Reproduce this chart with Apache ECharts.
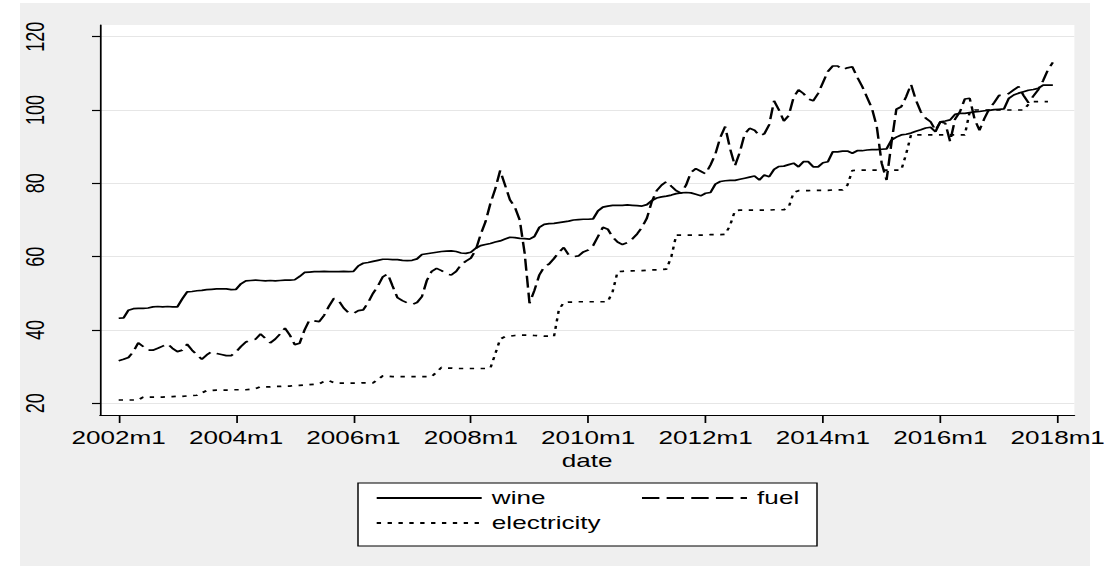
<!DOCTYPE html>
<html>
<head>
<meta charset="utf-8">
<script src="https://cdn.jsdelivr.net/npm/echarts@6/dist/echarts.min.js"></script>
<style>
  html, body { margin: 0; padding: 0; background: #fff; overflow: hidden; }
  #chart { position: absolute; left: 0; top: 0; height: 569px; transform-origin: 0 0; }
</style>
</head>
<body>
<div id="chart"></div>
<script>
// monthly series, 2002m1 .. 2017m12 (index 0 = 2002m1)
const wine = [
  43.2, 43.3, 45.4, 45.8, 45.9, 45.9, 46.0, 46.3, 46.4, 46.3, 46.4, 46.3,
  46.3, 48.5, 50.4, 50.5, 50.7, 50.8, 51.0, 51.1, 51.2, 51.2, 51.2, 51.0,
  51.1, 52.6, 53.4, 53.5, 53.6, 53.5, 53.4, 53.5, 53.4, 53.5, 53.6, 53.6,
  53.7, 54.6, 55.7, 55.8, 55.9, 55.9, 56.0, 55.9, 55.9, 55.9, 56.0, 55.9,
  56.0, 57.5, 58.2, 58.4, 58.7, 59.0, 59.3, 59.3, 59.2, 59.2, 59.0, 58.9,
  59.0, 59.4, 60.6, 60.8, 61.0, 61.2, 61.4, 61.5, 61.6, 61.4, 61.0, 60.9,
  61.2, 62.3, 63.0, 63.3, 63.6, 64.0, 64.3, 64.8, 65.3, 65.2, 65.0, 64.9,
  64.8, 65.5, 68.0, 68.8, 69.0, 69.1, 69.3, 69.5, 69.7, 70.0, 70.1, 70.2,
  70.2, 70.3, 72.5, 73.5, 73.8, 74.0, 74.0, 74.0, 74.1, 74.0, 73.9, 73.8,
  74.2, 75.3, 76.0, 76.3, 76.5, 76.8, 77.2, 77.4, 77.5, 77.4, 77.0, 76.6,
  77.3, 77.5, 79.8, 80.5, 80.7, 80.8, 80.8, 81.1, 81.4, 81.7, 82.0, 80.9,
  82.3, 81.8, 83.8, 84.6, 84.7, 85.1, 85.5, 84.5, 85.9, 85.9, 84.5, 84.5,
  85.6, 85.9, 88.6, 88.6, 88.8, 88.8, 88.2, 88.9, 88.9, 89.1, 89.2, 89.2,
  89.3, 89.4, 91.8, 92.6, 93.2, 93.4, 93.7, 94.2, 94.6, 95.1, 95.3, 94.1,
  96.8, 97.0, 97.3, 98.8, 99.1, 99.1, 99.3, 99.5, 99.6, 99.8, 99.9, 100.1,
  100.2, 100.3, 103.2, 104.1, 104.6, 105.0, 105.4, 105.6, 105.9, 106.8, 106.8, 106.8
]
const fuel = [
  31.6, 32.0, 32.5, 34.1, 36.5, 35.5, 34.5, 34.5, 35.0, 35.6, 36.2, 35.0,
  34.1, 34.5, 36.1, 34.5, 33.2, 32.0, 33.2, 34.1, 33.6, 33.3, 33.0, 33.0,
  34.0, 35.5, 36.7, 37.3, 37.5, 38.9, 37.7, 36.5, 37.5, 38.9, 40.5, 38.6,
  36.0, 36.4, 40.0, 42.7, 42.5, 42.3, 44.0, 46.5, 48.6, 48.0, 46.0, 44.7,
  44.5, 45.3, 45.5, 47.5, 50.0, 52.0, 54.5, 55.3, 52.0, 48.8, 48.0, 47.4,
  47.0, 47.5, 49.1, 53.5, 56.0, 56.8, 56.2, 55.3, 55.0, 56.0, 57.8, 58.8,
  59.6, 61.8, 66.0, 69.5, 74.5, 78.5, 83.5, 79.5, 75.5, 73.5, 70.0, 61.0,
  47.3, 50.8, 55.0, 57.2, 58.0, 59.5, 61.2, 62.5, 60.5, 60.0, 60.2, 61.3,
  61.8, 63.0, 65.5, 68.0, 67.5, 65.3, 64.0, 63.3, 63.8, 64.8, 66.2, 68.0,
  70.5, 75.0, 78.0, 79.5, 80.5, 79.2, 78.0, 77.3, 79.5, 83.0, 84.0, 83.3,
  82.6, 85.0, 88.0, 92.5, 95.5, 89.5, 84.8, 88.5, 93.5, 95.0, 94.5, 93.0,
  93.5, 96.0, 102.5, 100.0, 97.0, 98.5, 103.5, 105.5, 104.5, 103.0, 102.5, 104.5,
  107.5, 110.5, 112.0, 112.0, 111.0, 111.5, 111.8, 109.0, 106.5, 103.5, 100.5, 95.5,
  85.5, 80.9, 91.0, 100.2, 100.9, 103.6, 107.0, 102.7, 99.5, 97.8, 96.8, 94.5,
  96.8, 96.4, 91.4, 97.5, 99.5, 103.0, 103.2, 97.5, 94.5, 97.7, 100.3, 102.0,
  104.0, 104.0, 104.5, 105.5, 106.4, 104.0, 102.0, 103.8, 105.5, 108.0, 111.0, 113.0
]
const electricity = [
  20.9, 20.9, 20.9, 20.9, 20.9, 21.7, 21.7, 21.7, 21.7, 21.7, 21.8, 21.8,
  21.9, 21.9, 22.0, 22.1, 22.2, 22.8, 23.5, 23.5, 23.6, 23.6, 23.6, 23.7,
  23.7, 23.7, 23.7, 23.8, 24.0, 24.5, 24.5, 24.5, 24.6, 24.6, 24.7, 24.7,
  24.9, 24.9, 25.0, 25.1, 25.2, 25.3, 26.0, 26.2, 25.6, 25.5, 25.5, 25.5,
  25.5, 25.5, 25.6, 25.6, 25.6, 26.5, 27.5, 27.4, 27.3, 27.3, 27.3, 27.3,
  27.3, 27.3, 27.3, 27.3, 27.3, 28.5, 29.8, 29.6, 29.6, 29.5, 29.5, 29.5,
  29.5, 29.5, 29.5, 29.5, 29.6, 33.5, 37.5, 38.2, 38.3, 38.5, 38.6, 38.6,
  38.6, 38.5, 38.4, 38.3, 38.3, 38.2, 45.5, 47.5, 47.6, 47.6, 47.7, 47.7,
  47.7, 47.7, 47.7, 47.7, 47.7, 50.5, 55.9, 56.0, 56.1, 56.1, 56.2, 56.2,
  56.3, 56.4, 56.4, 56.5, 56.6, 60.0, 65.9, 65.9, 65.9, 65.9, 65.9, 65.9,
  65.9, 66.0, 66.0, 66.0, 66.1, 68.5, 72.5, 72.7, 72.7, 72.7, 72.7, 72.7,
  72.7, 72.7, 72.8, 72.8, 72.8, 73.5, 77.5, 78.0, 78.0, 78.0, 78.1, 78.1,
  78.1, 78.1, 78.2, 78.2, 78.2, 79.5, 83.5, 83.6, 83.6, 83.6, 83.6, 83.6,
  83.6, 83.6, 83.6, 83.6, 83.6, 88.0, 93.2, 93.2, 93.2, 93.2, 93.2, 93.2,
  93.2, 93.2, 93.2, 93.2, 93.2, 93.2, 99.5, 100.0, 100.0, 100.0, 100.0, 100.0,
  100.0, 100.0, 100.0, 100.0, 100.0, 100.0, 101.5, 102.3, 102.3, 102.3, 102.3, null
]
const xTickMonths = [0, 24, 48, 72, 96, 120, 144, 168, 192]
const xTickLabels = ['2002m1', '2004m1', '2006m1', '2008m1', '2010m1', '2012m1', '2014m1', '2016m1', '2018m1']
const yTicks = [20, 40, 60, 80, 100, 120]

// the reference looks like a Stata graph stretched sideways
const STRETCH = 1.45
const W = 1109 / STRETCH
const el = document.getElementById('chart')
el.style.width = W + 'px'
el.style.transform = 'scaleX(' + STRETCH + ')'

const sx = px => px / STRETCH
const FONT = 'Liberation Sans, Arial, sans-serif'

const chart = echarts.init(el, null, { renderer: 'svg' })

const toPoints = arr => arr.map((v, i) => [i, v])

chart.setOption({
  animation: false,
  graphic: [
    {
      type: 'rect', z: -10, silent: true,
      shape: { x: sx(20), y: 3, width: sx(1070), height: 563 },
      style: { fill: '#efefef' }
    },
    {
      type: 'rect', z: -5, silent: true,
      shape: { x: sx(358), y: 483, width: sx(459), height: 63 },
      style: { fill: '#fff', stroke: '#000', lineWidth: 1 }
    }
  ],
  grid: {
    left: sx(100),
    right: sx(1109 - 1075),
    top: 25,
    bottom: 569 - 415,
    show: true,
    backgroundColor: '#fff',
    borderWidth: 0
  },
  xAxis: {
    type: 'value',
    min: -3.82,
    max: 195.4,
    axisLine: { show: true, onZero: false, lineStyle: { color: '#000', width: 1.2 } },
    axisTick: { show: true, length: 8, customValues: xTickMonths, lineStyle: { color: '#000', width: 1.2 } },
    axisLabel: {
      customValues: xTickMonths,
      formatter: v => xTickLabels[xTickMonths.indexOf(v)],
      color: '#000',
      fontFamily: FONT,
      fontSize: 18,
      margin: 14
    },
    splitLine: { show: false },
    name: 'date',
    nameLocation: 'middle',
    nameGap: 37,
    nameTextStyle: { color: '#000', fontFamily: FONT, fontSize: 18 }
  },
  yAxis: {
    type: 'value',
    min: 16.81,
    max: 123.19,
    axisLine: { show: true, onZero: false, lineStyle: { color: '#000', width: 1.2 } },
    axisTick: { show: true, length: sx(8), customValues: yTicks, lineStyle: { color: '#000', width: 1.2 } },
    axisLabel: {
      customValues: yTicks,
      rotate: 90,
      color: '#000',
      fontFamily: FONT,
      fontSize: 18,
      margin: sx(52)
    },
    splitLine: { show: true, lineStyle: { color: '#e6e6e6', width: 1.2 } }
  },
  legend: [
    {
      data: ['wine', 'fuel'],
      left: sx(368),
      top: 484,
      itemWidth: sx(105),
      itemHeight: 14,
      itemGap: sx(95),
      itemStyle: { opacity: 0 },
      textStyle: { color: '#000', fontFamily: FONT, fontSize: 18, padding: [0, 0, 0, 2] }
    },
    {
      data: ['electricity'],
      left: sx(368),
      top: 509,
      itemWidth: sx(105),
      itemHeight: 14,
      itemStyle: { opacity: 0 },
      textStyle: { color: '#000', fontFamily: FONT, fontSize: 18, padding: [0, 0, 0, 2] }
    }
  ],
  series: [
    {
      name: 'wine', type: 'line', symbol: 'none',
      data: toPoints(wine),
      lineStyle: { color: '#000', width: 1.7 },
      itemStyle: { color: '#000' }
    },
    {
      name: 'fuel', type: 'line', symbol: 'none',
      data: toPoints(fuel),
      lineStyle: { color: '#000', width: 1.7, type: [12, 5] },
      itemStyle: { color: '#000' }
    },
    {
      name: 'electricity', type: 'line', symbol: 'none',
      data: toPoints(electricity),
      lineStyle: { color: '#000', width: 1.7, type: [3, 4.5] },
      itemStyle: { color: '#000' }
    }
  ]
})
</script>
</body>
</html>
